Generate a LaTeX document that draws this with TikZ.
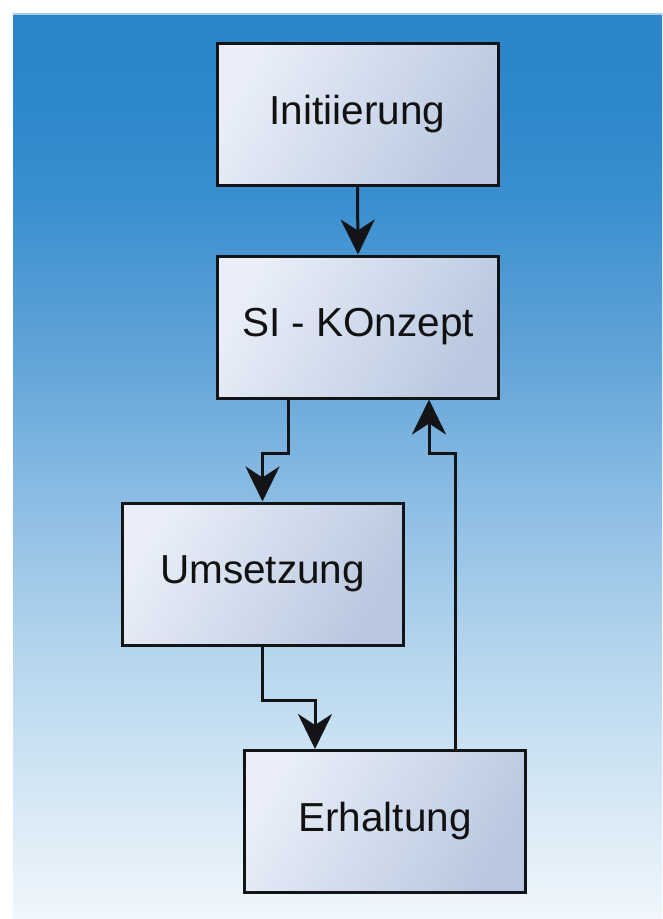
\documentclass[tikz,border=0pt]{standalone}
\usepackage{fontspec}
\setmainfont{Liberation Sans}
\usetikzlibrary{arrows.meta}

\definecolor{boxlight}{HTML}{E9EEF8}
\definecolor{boxdark}{HTML}{B9C8E0}
\definecolor{inkc}{HTML}{111111}
\definecolor{edgec}{HTML}{121417}
\definecolor{rimc}{HTML}{A6CDEC}

% sky-like backdrop, deep blue at the top fading to almost white at the bottom
\pgfdeclareverticalshading{backdrop}{100bp}{%
  color(0bp)=({rgb,255:red,241;green,247;blue,252});
  color(25bp)=({rgb,255:red,241;green,247;blue,252});
  color(31.6bp)=({rgb,255:red,214;green,232;blue,245});
  color(39.8bp)=({rgb,255:red,180;green,213;blue,238});
  color(48.1bp)=({rgb,255:red,140;green,189;blue,228});
  color(56.4bp)=({rgb,255:red,95;green,163;blue,216});
  color(64.7bp)=({rgb,255:red,58;green,143;blue,207});
  color(70.2bp)=({rgb,255:red,45;green,135;blue,202});
  color(75bp)=({rgb,255:red,44;green,133;blue,201});
  color(100bp)=({rgb,255:red,44;green,133;blue,201})}

\tikzset{
  stagebox/.style={draw=edgec, line width=3pt, minimum width=281pt,
    minimum height=142pt, inner sep=0pt,
    top color=boxlight, bottom color=boxdark, shading angle=60,
    font=\fontsize{40.5}{48}\selectfont, text=inkc},
  flow/.style={draw=edgec, line width=3pt,
    -{Stealth[length=35pt, width=34pt, inset=11pt]}}
}

\begin{document}
\begin{tikzpicture}[x=1pt, y=-1pt]
  \useasboundingbox (0,0) rectangle (662,919);
  \fill[white] (0,0) rectangle (662,919);
  \shade[shading=backdrop] (13,13) rectangle (662,919);
  \draw[rimc, line width=2pt] (13,14) -- (662,14);

  \node[stagebox] (init) at (357.5,114.5) {Initiierung};
  \node[stagebox] (konz) at (358,327) {SI - KOnzept};
  \node[stagebox] (ums)  at (262.5,574) {Umsetzung};
  \node[stagebox] (erh)  at (385,821.5) {Erhaltung};

  \draw[flow] (init.south) -- (konz.north);
  \draw[flow] ([xshift=-70pt]konz.south) -- ++(0,54) -| (ums.north);
  \draw[flow] (ums.south) -- ++(0,54) -| ([xshift=-70pt]erh.north);
  \draw[flow] ([xshift=70pt]erh.north)
      |- ([xshift=71pt, yshift=-54pt]konz.south) -- ([xshift=71pt]konz.south);
\end{tikzpicture}
\end{document}
